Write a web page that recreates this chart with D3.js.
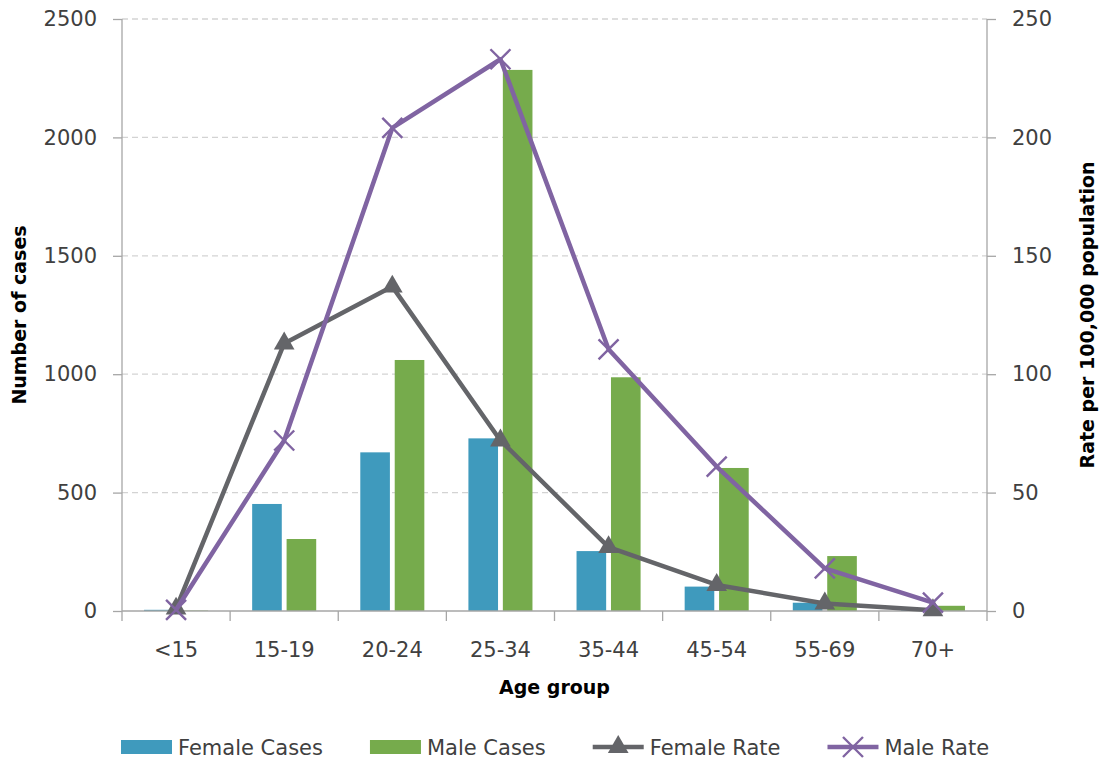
<!DOCTYPE html>
<html>
<head>
<meta charset="utf-8">
<script src="https://cdn.jsdelivr.net/npm/d3@7"></script>
<style>
  html, body { margin: 0; padding: 0; background: #fff; }
  svg { display: block; }
  text { font-family: "DejaVu Sans", sans-serif; }
</style>
</head>
<body>
<svg id="chart" width="1104" height="764"></svg>
<script>
const categories = ["<15", "15-19", "20-24", "25-34", "35-44", "45-54", "55-69", "70+"];
const femaleCases = [5, 452, 670, 729, 253, 103, 35, 3];
const maleCases = [2, 304, 1060, 2285, 987, 604, 232, 22];
const femaleRate = [1, 113, 137, 72, 27, 11, 3.2, 0.3];
const maleRate = [0.5, 72, 204, 233, 110.5, 61, 18, 3.5];
const casesTicks = [0, 500, 1000, 1500, 2000, 2500];
const rateTicks = [0, 50, 100, 150, 200, 250];
const seriesNames = ["Female Cases", "Male Cases", "Female Rate", "Male Rate"];

const colors = {
  "Female Cases": "#3F9ABD",
  "Male Cases": "#76AB4C",
  "Female Rate": "#646569",
  "Male Rate": "#8064A2"
};

const svg = d3.select("#chart");
const W = 1104, H = 764;
const margin = { left: 122, right: W - 987, top: 19, bottom: H - 611 };
const plotL = margin.left, plotR = W - margin.right, plotT = margin.top, plotB = H - margin.bottom;

const x0 = d3.scaleBand().domain(categories).range([plotL, plotR]).padding(0);
const x1 = d3.scaleBand().domain(["Female Cases", "Male Cases"]).range([0, x0.bandwidth()])
  .paddingInner(0.14).paddingOuter(0.64);
const yL = d3.scaleLinear().domain([0, 2500]).range([plotB, plotT]);
const yR = d3.scaleLinear().domain([0, 250]).range([plotB, plotT]);

const axisColor = "#A6A6A6";
const tickTextColor = "#404040";

// gridlines
svg.append("g").selectAll("line").data(casesTicks.filter(d => d > 0)).join("line")
  .attr("x1", plotL).attr("x2", plotR)
  .attr("y1", d => yL(d)).attr("y2", d => yL(d))
  .attr("stroke", "#D3D3D3").attr("stroke-width", 1.3).attr("stroke-dasharray", "6,4");

// bars
const barData = [];
categories.forEach((c, i) => {
  barData.push({ cat: c, series: "Female Cases", value: femaleCases[i] });
  barData.push({ cat: c, series: "Male Cases", value: maleCases[i] });
});
svg.append("g").selectAll("rect").data(barData).join("rect")
  .attr("x", d => x0(d.cat) + x1(d.series))
  .attr("width", x1.bandwidth())
  .attr("y", d => yL(d.value))
  .attr("height", d => yL(0) - yL(d.value))
  .attr("fill", d => colors[d.series]);

// left axis
const gL = svg.append("g").attr("transform", `translate(${plotL},0)`)
  .call(d3.axisLeft(yL).tickValues(casesTicks).tickSize(9).tickPadding(16).tickFormat(d3.format("d")));
// right axis
const gR = svg.append("g").attr("transform", `translate(${plotR},0)`)
  .call(d3.axisRight(yR).tickValues(rateTicks).tickSize(9).tickPadding(16).tickFormat(d3.format("d")));
// bottom axis with ticks on category boundaries
const gB = svg.append("g").attr("transform", `translate(0,${plotB})`)
  .call(d3.axisBottom(x0).tickSize(0).tickPadding(31));
gB.append("g").selectAll("line").data(categories.concat(["__end"])).join("line")
  .attr("x1", (d, i) => plotL + i * x0.step()).attr("x2", (d, i) => plotL + i * x0.step())
  .attr("y1", 0).attr("y2", 10).attr("stroke", axisColor).attr("stroke-width", 1.3);

[gL, gR, gB].forEach(g => {
  g.select(".domain").attr("stroke", axisColor).attr("stroke-width", 1.3);
  g.selectAll(".tick line").attr("stroke", axisColor).attr("stroke-width", 1.3);
  g.selectAll(".tick text").attr("fill", tickTextColor).style("font-family", "DejaVu Sans, sans-serif").style("font-size", "21px");
});
gL.select(".domain").attr("d", `M0,${plotT}V${plotB}`);
gR.select(".domain").attr("d", `M0,${plotT}V${plotB}`);
gB.select(".domain").attr("d", `M${plotL},0H${plotR}`);

// rate lines
const cx = c => x0(c) + x0.bandwidth() / 2;
const line = d3.line().x(d => cx(d.cat)).y(d => yR(d.value));
const fr = categories.map((c, i) => ({ cat: c, value: femaleRate[i] }));
const mr = categories.map((c, i) => ({ cat: c, value: maleRate[i] }));
const triSize = 185;

svg.append("path").datum(fr).attr("d", line).attr("fill", "none")
  .attr("stroke", colors["Female Rate"]).attr("stroke-width", 4.5).attr("stroke-linejoin", "round");
svg.append("g").selectAll("path").data(fr).join("path")
  .attr("d", d3.symbol(d3.symbolTriangle, triSize))
  .attr("transform", d => `translate(${cx(d.cat)},${yR(d.value)})`)
  .attr("fill", colors["Female Rate"]);

const xMark = "M-10,-10L10,10M-10,10L10,-10";
svg.append("path").datum(mr).attr("d", line).attr("fill", "none")
  .attr("stroke", colors["Male Rate"]).attr("stroke-width", 4.5).attr("stroke-linejoin", "round");
svg.append("g").selectAll("path").data(mr).join("path")
  .attr("d", xMark)
  .attr("transform", d => `translate(${cx(d.cat)},${yR(d.value)})`)
  .attr("fill", "none").attr("stroke", colors["Male Rate"]).attr("stroke-width", 2.4);

// axis titles
svg.append("text").attr("transform", `translate(26,${(plotT + plotB) / 2}) rotate(-90)`)
  .attr("text-anchor", "middle").attr("font-weight", "bold").attr("font-size", 19).attr("fill", "#000")
  .text("Number of cases");
svg.append("text").attr("transform", `translate(1094,${(plotT + plotB) / 2}) rotate(-90)`)
  .attr("text-anchor", "middle").attr("font-weight", "bold").attr("font-size", 19).attr("fill", "#000")
  .text("Rate per 100,000 population");
svg.append("text").attr("x", (plotL + plotR) / 2).attr("y", 694)
  .attr("text-anchor", "middle").attr("font-weight", "bold").attr("font-size", 19).attr("fill", "#000")
  .text("Age group");

// legend
const lg = svg.append("g");
let lx = 121;
const ly = 747;
seriesNames.forEach((name, i) => {
  const item = lg.append("g");
  if (i < 2) {
    item.append("rect").attr("x", lx).attr("y", ly - 7).attr("width", 51).attr("height", 14).attr("fill", colors[name]);
  } else {
    item.append("line").attr("x1", lx).attr("x2", lx + 51).attr("y1", ly).attr("y2", ly)
      .attr("stroke", colors[name]).attr("stroke-width", 4.5);
    if (i === 2) {
      item.append("path").attr("d", d3.symbol(d3.symbolTriangle, triSize))
        .attr("transform", `translate(${lx + 25.5},${ly})`).attr("fill", colors[name]);
    } else {
      item.append("path").attr("d", xMark).attr("transform", `translate(${lx + 25.5},${ly})`)
        .attr("fill", "none").attr("stroke", colors[name]).attr("stroke-width", 2.4);
    }
  }
  const t = item.append("text").attr("x", lx + 57).attr("y", ly + 7.5)
    .attr("font-size", 21).attr("fill", tickTextColor).text(name);
  lx += 57 + t.node().getComputedTextLength() + 47;
});
</script>
</body>
</html>
